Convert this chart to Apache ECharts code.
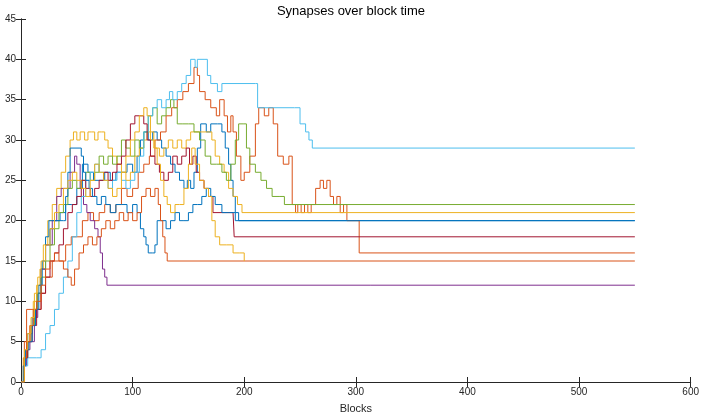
<!DOCTYPE html>
<html>
<head>
<meta charset="utf-8">
<script src="https://cdn.jsdelivr.net/npm/echarts@6/dist/echarts.min.js"></script>
<style>
  html, body { margin: 0; padding: 0; background: #fff; }
  #chart { width: 702px; height: 419px; }
</style>
</head>
<body>
<div id="chart"></div>
<script>
// axis ticks
const xTicks = [0, 100, 200, 300, 400, 500, 600]
const yTicks = [0, 5, 10, 15, 20, 25, 30, 35, 40, 45]

// [block, synapses], one array per run
const runBlue1 = [[0,0],[3,3],[6,6],[10,8],[14,11],[18,14],[22,17],[26,19],[30,20],[35,21],[40,22],[45,22],[50,24],[55,27],[60,26],[65,25],[70,25],[75,26],[80,25],[85,26],[90,26],[95,27],[100,26],[104,28],[107,30],[110,31],[114,30],[118,31],[122,30],[126,29],[130,28],[134,27],[138,26],[142,25],[146,24],[149,25],[152,24],[155,26],[158,29],[161,32],[166,31],[170,32],[176,32],[180,31],[183,29],[186,27],[188,25],[190,23],[192,21],[195,20],[550,20]]
const runOrange1 = [[0,0],[3,5],[5,9],[14,9],[18,11],[22,13],[28,15],[35,15],[40,17],[45,18],[50,18],[55,20],[60,21],[65,20],[70,21],[75,22],[80,21],[85,22],[90,24],[95,23],[100,24],[105,26],[110,27],[115,28],[120,30],[125,31],[130,33],[135,34],[140,35],[145,36],[150,37],[155,39],[158,38],[160,36],[165,35],[170,34],[175,33],[178,35],[182,33],[185,31],[188,33],[190,31],[193,28],[197,25],[200,26],[205,28],[210,32],[213,34],[218,33],[222,34],[226,32],[230,28],[235,27],[240,28],[243,22],[246,21],[248,22],[251,21],[254,22],[257,21],[260,22],[264,24],[268,25],[271,24],[274,25],[277,23],[280,22],[283,23],[286,21],[289,22],[292,20],[300,20],[303,16],[550,16]]
const runYellow1 = [[0,0],[2,3],[5,5],[8,7],[11,10],[14,12],[17,14],[20,17],[24,20],[28,22],[32,24],[36,26],[40,28],[44,30],[47,31],[50,30],[53,31],[57,30],[60,31],[63,31],[66,30],[69,31],[72,31],[75,30],[78,29],[82,28],[86,27],[90,26],[94,25],[98,26],[102,28],[106,29],[110,30],[113,31],[116,30],[120,29],[124,28],[128,29],[132,30],[136,29],[140,30],[144,29],[148,30],[152,31],[156,31],[162,31],[168,31],[171,30],[174,28],[178,27],[182,26],[186,24],[190,23],[194,22],[198,21],[550,21]]
const runPurple = [[0,0],[3,2],[5,4],[8,5],[12,8],[15,11],[18,14],[22,17],[28,20],[32,23],[36,24],[40,24],[44,26],[48,28],[50,27],[53,24],[56,22],[59,21],[62,20],[66,19],[69,18],[71,16],[73,14],[75,13],[77,12],[550,12]]
const runGreen = [[0,0],[3,3],[6,5],[9,7],[12,9],[15,11],[18,13],[22,15],[26,17],[30,19],[34,21],[38,22],[42,24],[46,25],[50,24],[54,25],[58,26],[62,25],[66,26],[70,28],[74,27],[78,28],[82,27],[86,28],[90,30],[94,29],[98,28],[102,30],[106,29],[110,31],[114,33],[118,34],[122,32],[126,33],[130,34],[134,35],[137,34],[140,32],[145,32],[150,32],[155,31],[160,30],[165,28],[170,27],[175,27],[180,26],[184,25],[188,27],[192,30],[195,32],[199,32],[202,29],[205,27],[210,26],[215,25],[220,24],[225,23],[232,23],[236,22],[550,22]]
const runCyan = [[0,0],[3,2],[6,3],[14,3],[18,4],[22,6],[26,7],[30,9],[34,11],[38,13],[42,15],[46,18],[50,21],[54,23],[58,25],[62,26],[66,27],[70,26],[74,25],[78,24],[82,25],[86,26],[90,25],[94,24],[98,25],[102,26],[106,28],[110,31],[114,33],[118,34],[122,35],[126,34],[130,35],[133,36],[136,35],[140,36],[144,37],[148,38],[152,40],[156,39],[158,40],[164,40],[167,38],[170,37],[176,36],[180,37],[210,37],[212,34],[245,34],[250,32],[255,31],[258,30],[261,29],[550,29]]
const runDarkRed = [[0,0],[3,3],[6,5],[10,7],[14,9],[18,11],[22,13],[26,15],[30,16],[34,17],[38,19],[42,21],[46,22],[50,23],[54,25],[58,24],[62,23],[66,24],[70,25],[74,26],[78,25],[82,26],[86,27],[90,28],[94,30],[98,32],[102,33],[106,33],[110,32],[113,30],[116,28],[120,27],[124,26],[128,25],[132,26],[136,28],[140,27],[144,28],[148,29],[151,27],[154,28],[157,26],[160,25],[164,24],[168,23],[172,21],[190,21],[191,18],[550,18]]
const runBlue2 = [[0,0],[2,2],[4,4],[7,5],[10,7],[13,9],[16,12],[19,15],[22,18],[25,20],[38,20],[40,23],[42,26],[44,29],[52,29],[54,28],[56,26],[58,25],[61,24],[64,23],[68,22],[72,23],[76,22],[80,21],[85,22],[90,22],[95,21],[100,22],[104,21],[107,19],[110,18],[112,17],[114,16],[118,16],[120,17],[122,20],[126,20],[130,19],[134,20],[138,21],[142,20],[146,20],[150,21],[154,22],[158,22],[162,23],[166,24],[170,23],[174,22],[180,21],[186,21],[192,20],[550,20]]
const runOrange2 = [[0,0],[3,3],[5,5],[8,7],[11,9],[14,10],[18,12],[22,14],[26,15],[30,16],[34,15],[38,14],[42,13],[45,12],[48,14],[52,16],[56,17],[60,18],[64,17],[68,18],[72,19],[76,20],[80,19],[84,20],[88,21],[92,20],[96,21],[100,20],[104,21],[108,23],[112,24],[116,23],[120,24],[123,22],[125,20],[127,18],[129,16],[131,15],[550,15]]
const runYellow2 = [[0,0],[3,4],[6,6],[9,8],[12,11],[15,13],[18,15],[22,17],[26,19],[30,21],[34,22],[38,24],[42,25],[46,26],[50,25],[54,24],[58,23],[62,25],[66,27],[70,26],[74,25],[78,24],[82,23],[86,24],[90,26],[94,28],[98,30],[102,31],[106,33],[110,34],[113,33],[116,31],[119,29],[122,27],[125,25],[128,23],[131,22],[134,21],[138,22],[142,22],[146,24],[150,27],[153,29],[156,27],[160,25],[164,24],[168,23],[171,20],[174,18],[178,17],[184,17],[190,16],[196,16],[200,15]]

// matlab default colour order
const runs = [runBlue1, runOrange1, runYellow1, runPurple, runGreen, runCyan, runDarkRed, runBlue2, runOrange2, runYellow2]
const colors = ['#0072BD', '#D95319', '#EDB120', '#7E2F8E', '#77AC30', '#4DBEEE', '#A2142F', '#0072BD', '#D95319', '#EDB120']

const chart = echarts.init(document.getElementById('chart'))
const axisColor = '#262626'
const font = 'Liberation Sans, Arial, sans-serif'

const boxAxis = {
  axisLine: { show: true, lineStyle: { color: axisColor, width: 1 } },
  axisTick: { show: true, inside: true, length: 5, lineStyle: { color: axisColor } },
  splitLine: { show: false }
}

chart.setOption({
  animation: false,
  backgroundColor: '#fff',
  title: {
    text: 'Synapses over block time',
    left: 'center',
    top: 0,
    textStyle: { fontFamily: font, fontSize: 13, fontWeight: 'normal', color: '#000' }
  },
  grid: { left: 21, right: 9, top: 19, bottom: 27 },
  xAxis: [
    {
      ...boxAxis,
      type: 'value', min: 0, max: 600, interval: 100,
      name: 'Blocks', nameLocation: 'middle', nameGap: 21,
      nameTextStyle: { fontFamily: font, fontSize: 11, color: '#262626' },
      axisLabel: { fontFamily: font, fontSize: 10, color: '#262626', margin: 5 }
    },
    { ...boxAxis, type: 'value', position: 'top', min: 0, max: 600, interval: 100, axisLabel: { show: false } }
  ],
  yAxis: [
    {
      ...boxAxis,
      type: 'value', min: 0, max: 45, interval: 5,
      axisLabel: { fontFamily: font, fontSize: 10, color: '#262626', margin: 5 }
    },
    { ...boxAxis, type: 'value', position: 'right', min: 0, max: 45, interval: 5, axisLabel: { show: false } }
  ],
  series: runs.map((d, i) => ({
    type: 'line',
    step: 'end',
    data: d,
    showSymbol: false,
    lineStyle: { color: colors[i], width: 1 },
    itemStyle: { color: colors[i] }
  }))
})
</script>
</body>
</html>
